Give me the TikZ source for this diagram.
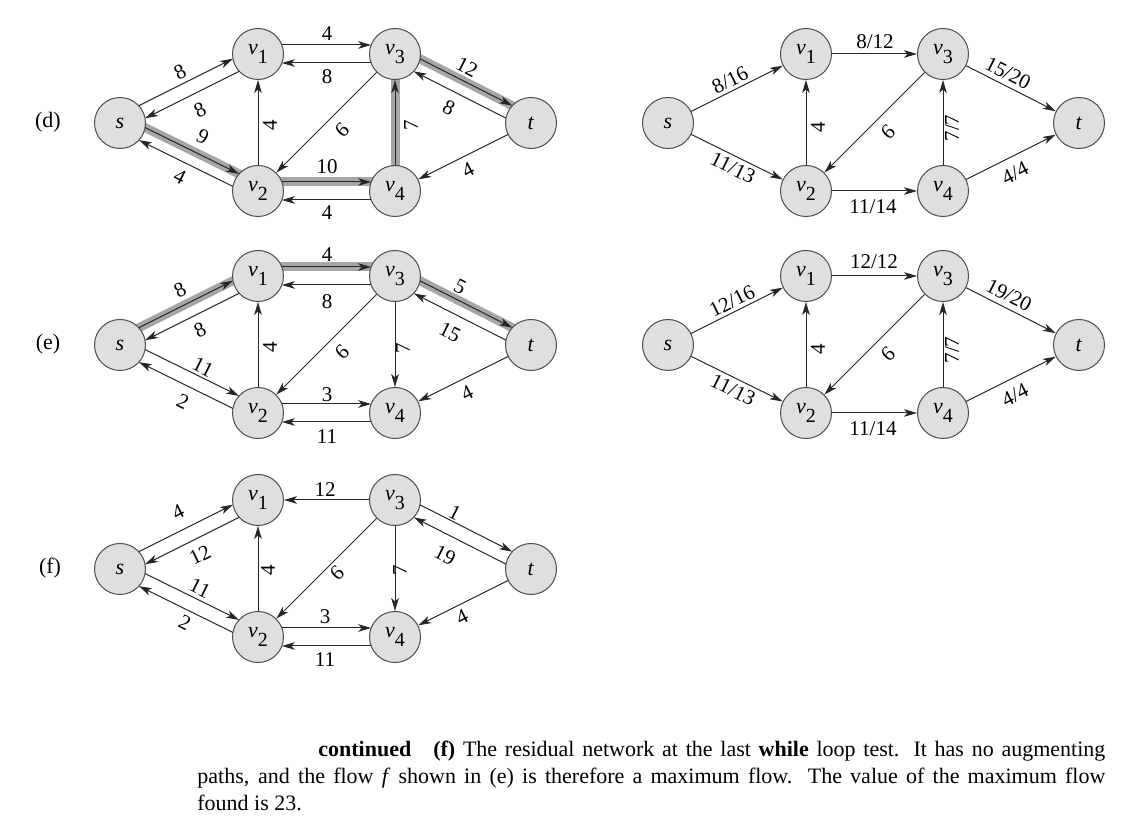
\documentclass[tikz,border=0pt]{standalone}
\usepackage{fontspec}
\setmainfont{Liberation Serif}
\usetikzlibrary{calc,arrows.meta,backgrounds}

\newcommand\vsub[1]{\textit{v}\raisebox{-4.5pt}{\fontsize{10}{10}\selectfont #1}}

\tikzset{
  nd/.style={circle, draw=black!70, fill=gray!25, line width=0.5pt, minimum size=25.5pt, inner sep=0pt, font=\fontsize{11}{13}\selectfont},
  ed/.style={-{Stealth[length=6.5pt,width=3.8pt,inset=1.8pt]}, line width=0.5pt, draw=black!85},
  lb/.style={font=\fontsize{10.5}{12}\selectfont, inner sep=0pt},
  band/.style={line width=4.5pt, draw=gray!70},
  tag/.style={font=\fontsize{11}{13}\selectfont, inner sep=0pt},
}

% nodes of one graph
\newcommand\placenodes{%
  \node[nd] (s)  at (120,123) {\textit{s}};
  \node[nd] (v1) at (258,54)  {\vsub1};
  \node[nd] (v3) at (395,54)  {\vsub3};
  \node[nd] (t)  at (531,123) {\textit{t}};
  \node[nd] (v2) at (258,191) {\vsub2};
  \node[nd] (v4) at (395,191) {\vsub4};
}
% offset (paired) edge: from #1 to #2, offset #3, shorten #4
\newcommand\pe[4]{\draw[ed,shorten <=#4,shorten >=#4] ($(#1)!#3!90:(#2)$) -- ($(#2)!#3!-90:(#1)$);}
% highlight band under an edge
\newcommand\bd[3]{\draw[band,shorten <=9pt,shorten >=9pt] ($(#1)!#3!90:(#2)$) -- ($(#2)!#3!-90:(#1)$);}

\begin{document}
\begin{tikzpicture}[x=0.5pt,y=-0.5pt]
\useasboundingbox (0,0) rectangle (1142,839);

% ---------------- (d) residual network
\node[tag] (tagd) at (48,122) {(d)};
\begin{scope}[name prefix=d-]
  \placenodes
  \begin{scope}[on background layer]
    \bd{s}{v2}{3.5pt}
    \bd{v2}{v4}{4.5pt}
    \bd{v4}{v3}{0pt}
    \bd{v3}{t}{3.5pt}
  \end{scope}
  \pe{s}{v1}{3.5pt}{12.26pt}
  \pe{v1}{s}{3.5pt}{12.26pt}
  \pe{s}{v2}{3.5pt}{12.26pt}
  \pe{v2}{s}{3.5pt}{12.26pt}
  \pe{v1}{v3}{4.5pt}{11.93pt}
  \pe{v3}{v1}{4.5pt}{11.93pt}
  \pe{v2}{v4}{4.5pt}{11.93pt}
  \pe{v4}{v2}{4.5pt}{11.93pt}
  \pe{v3}{t}{3.5pt}{12.26pt}
  \pe{t}{v3}{3.5pt}{12.26pt}
  \draw[ed] (v2) -- (v1);
  \draw[ed] (v3) -- (v2);
  \draw[ed] (v4) -- (v3);
  \draw[ed] (t) -- (v4);
  \node[lb,rotate=26.6]  (a1)  at (180,72)  {8};
  \node[lb,rotate=26.6]  (a2)  at (200,110) {8};
  \node[lb,rotate=-26.6] (a3)  at (203,137) {9};
  \node[lb,rotate=-26.6] (a4)  at (180,177) {4};
  \node[lb]              (a5)  at (327,34)  {4};
  \node[lb]              (a6)  at (327,77)  {8};
  \node[lb,rotate=90]    (a7)  at (270,125) {4};
  \node[lb,rotate=-135]  (a8)  at (342,130) {9};
  \node[lb]              (a9)  at (327,167) {10};
  \node[lb]              (a10) at (327,213) {4};
  \node[lb,rotate=90]    (a11) at (411,125) {7};
  \node[lb,rotate=-26.6] (a12) at (467,67)  {12};
  \node[lb,rotate=-26.6] (a13) at (449,108) {8};
  \node[lb,rotate=26.6]  (a14) at (468,170) {4};
\end{scope}

% ---------------- (d) flow network
\begin{scope}[shift={(548,0)},name prefix=dr-]
  \placenodes
  \draw[ed] (s) -- (v1);
  \draw[ed] (s) -- (v2);
  \draw[ed] (v2) -- (v1);
  \draw[ed] (v1) -- (v3);
  \draw[ed] (v3) -- (v2);
  \draw[ed] (v2) -- (v4);
  \draw[ed] (v4) -- (v3);
  \draw[ed] (v3) -- (t);
  \draw[ed] (v4) -- (t);
  \node[lb,rotate=26.6]  (a1) at (182,80)  {8/16};
  \node[lb,rotate=-26.6] (a2) at (185,168) {11/13};
  \node[lb]              (a3) at (327,42)  {8/12};
  \node[lb,rotate=90]    (a4) at (270,127) {4};
  \node[lb,rotate=-135]  (a5) at (340,132) {9};
  \node[lb]              (a6) at (325,207) {11/14};
  \node[lb,rotate=90]    (a7) at (404,128) {7/7};
  \node[lb,rotate=-26.6] (a8) at (460,73)  {15/20};
  \node[lb,rotate=26.6]  (a9) at (467,173) {4/4};
\end{scope}

% ---------------- (e) residual network
\node[tag] (tage) at (48,344) {(e)};
\begin{scope}[shift={(0,222)},name prefix=e-]
  \placenodes
  \begin{scope}[on background layer]
    \bd{s}{v1}{3.5pt}
    \bd{v1}{v3}{4.5pt}
    \bd{v3}{t}{3.5pt}
  \end{scope}
  \pe{s}{v1}{3.5pt}{12.26pt}
  \pe{v1}{s}{3.5pt}{12.26pt}
  \pe{s}{v2}{3.5pt}{12.26pt}
  \pe{v2}{s}{3.5pt}{12.26pt}
  \pe{v1}{v3}{4.5pt}{11.93pt}
  \pe{v3}{v1}{4.5pt}{11.93pt}
  \pe{v2}{v4}{4.5pt}{11.93pt}
  \pe{v4}{v2}{4.5pt}{11.93pt}
  \pe{v3}{t}{3.5pt}{12.26pt}
  \pe{t}{v3}{3.5pt}{12.26pt}
  \draw[ed] (v2) -- (v1);
  \draw[ed] (v3) -- (v2);
  \draw[ed] (v3) -- (v4);
  \draw[ed] (t) -- (v4);
  \node[lb,rotate=26.6]  (a1)  at (180,68)  {8};
  \node[lb,rotate=26.6]  (a2)  at (200,108) {8};
  \node[lb,rotate=-26.6] (a3)  at (203,145) {11};
  \node[lb,rotate=-26.6] (a4)  at (183,180) {2};
  \node[lb]              (a5)  at (327,33)  {4};
  \node[lb]              (a6)  at (327,80)  {8};
  \node[lb,rotate=90]    (a7)  at (270,125) {4};
  \node[lb,rotate=-135]  (a8)  at (342,130) {9};
  \node[lb]              (a9)  at (327,173) {3};
  \node[lb]              (a10) at (327,215) {11};
  \node[lb,rotate=90]    (a11) at (403,126) {7};
  \node[lb,rotate=-26.6] (a12) at (460,65)  {5};
  \node[lb,rotate=-26.6] (a13) at (450,110) {15};
  \node[lb,rotate=26.6]  (a14) at (467,171) {4};
\end{scope}

% ---------------- (e) flow network
\begin{scope}[shift={(548,222)},name prefix=er-]
  \placenodes
  \draw[ed] (s) -- (v1);
  \draw[ed] (s) -- (v2);
  \draw[ed] (v2) -- (v1);
  \draw[ed] (v1) -- (v3);
  \draw[ed] (v3) -- (v2);
  \draw[ed] (v2) -- (v4);
  \draw[ed] (v4) -- (v3);
  \draw[ed] (v3) -- (t);
  \draw[ed] (v4) -- (t);
  \node[lb,rotate=26.6]  (a1) at (184,79)  {12/16};
  \node[lb,rotate=-26.6] (a2) at (185,168) {11/13};
  \node[lb]              (a3) at (326,40)  {12/12};
  \node[lb,rotate=90]    (a4) at (270,127) {4};
  \node[lb,rotate=-135]  (a5) at (340,132) {9};
  \node[lb]              (a6) at (325,207) {11/14};
  \node[lb,rotate=90]    (a7) at (404,128) {7/7};
  \node[lb,rotate=-26.6] (a8) at (461,73)  {19/20};
  \node[lb,rotate=26.6]  (a9) at (467,173) {4/4};
\end{scope}

% ---------------- (f) residual network
\node[tag] (tagf) at (50,568) {(f)};
\begin{scope}[shift={(0,446)},name prefix=f-]
  \placenodes
  \pe{s}{v1}{3.5pt}{12.26pt}
  \pe{v1}{s}{3.5pt}{12.26pt}
  \pe{s}{v2}{3.5pt}{12.26pt}
  \pe{v2}{s}{3.5pt}{12.26pt}
  \pe{v2}{v4}{4.5pt}{11.93pt}
  \pe{v4}{v2}{4.5pt}{11.93pt}
  \pe{v3}{t}{3.5pt}{12.26pt}
  \pe{t}{v3}{3.5pt}{12.26pt}
  \draw[ed] (v3) -- (v1);
  \draw[ed] (v2) -- (v1);
  \draw[ed] (v3) -- (v2);
  \draw[ed] (v3) -- (v4);
  \draw[ed] (t) -- (v4);
  \node[lb,rotate=26.6]  (a1)  at (178,66)  {4};
  \node[lb,rotate=26.6]  (a2)  at (200,109) {12};
  \node[lb,rotate=-26.6] (a3)  at (200,142) {11};
  \node[lb,rotate=-26.6] (a4)  at (185,177) {2};
  \node[lb]              (a5)  at (325,44)  {12};
  \node[lb,rotate=90]    (a6)  at (268,124) {4};
  \node[lb,rotate=-135]  (a7)  at (337,127) {9};
  \node[lb]              (a8)  at (325,171) {3};
  \node[lb]              (a9)  at (325,214) {11};
  \node[lb,rotate=90]    (a10) at (400,124) {7};
  \node[lb,rotate=-26.6] (a11) at (455,67)  {1};
  \node[lb,rotate=-26.6] (a12) at (445,109) {19};
  \node[lb,rotate=26.6]  (a13) at (462,171) {4};
\end{scope}

% ---------------- caption
\node[anchor=base west, text width=454pt, align=justify, inner sep=0pt,
      font=\fontsize{11}{13.75}\selectfont] (cap) at (197,756)
  {\hspace*{60.5pt}\textbf{continued}\hspace{1em}\textbf{(f)} The residual network at the last \textbf{while} loop test. It has no augmenting\linebreak
   paths, and the flow \textit{f} shown in (e) is therefore a maximum flow. The value of the maximum flow\linebreak
   found is 23.};
\end{tikzpicture}
\end{document}
